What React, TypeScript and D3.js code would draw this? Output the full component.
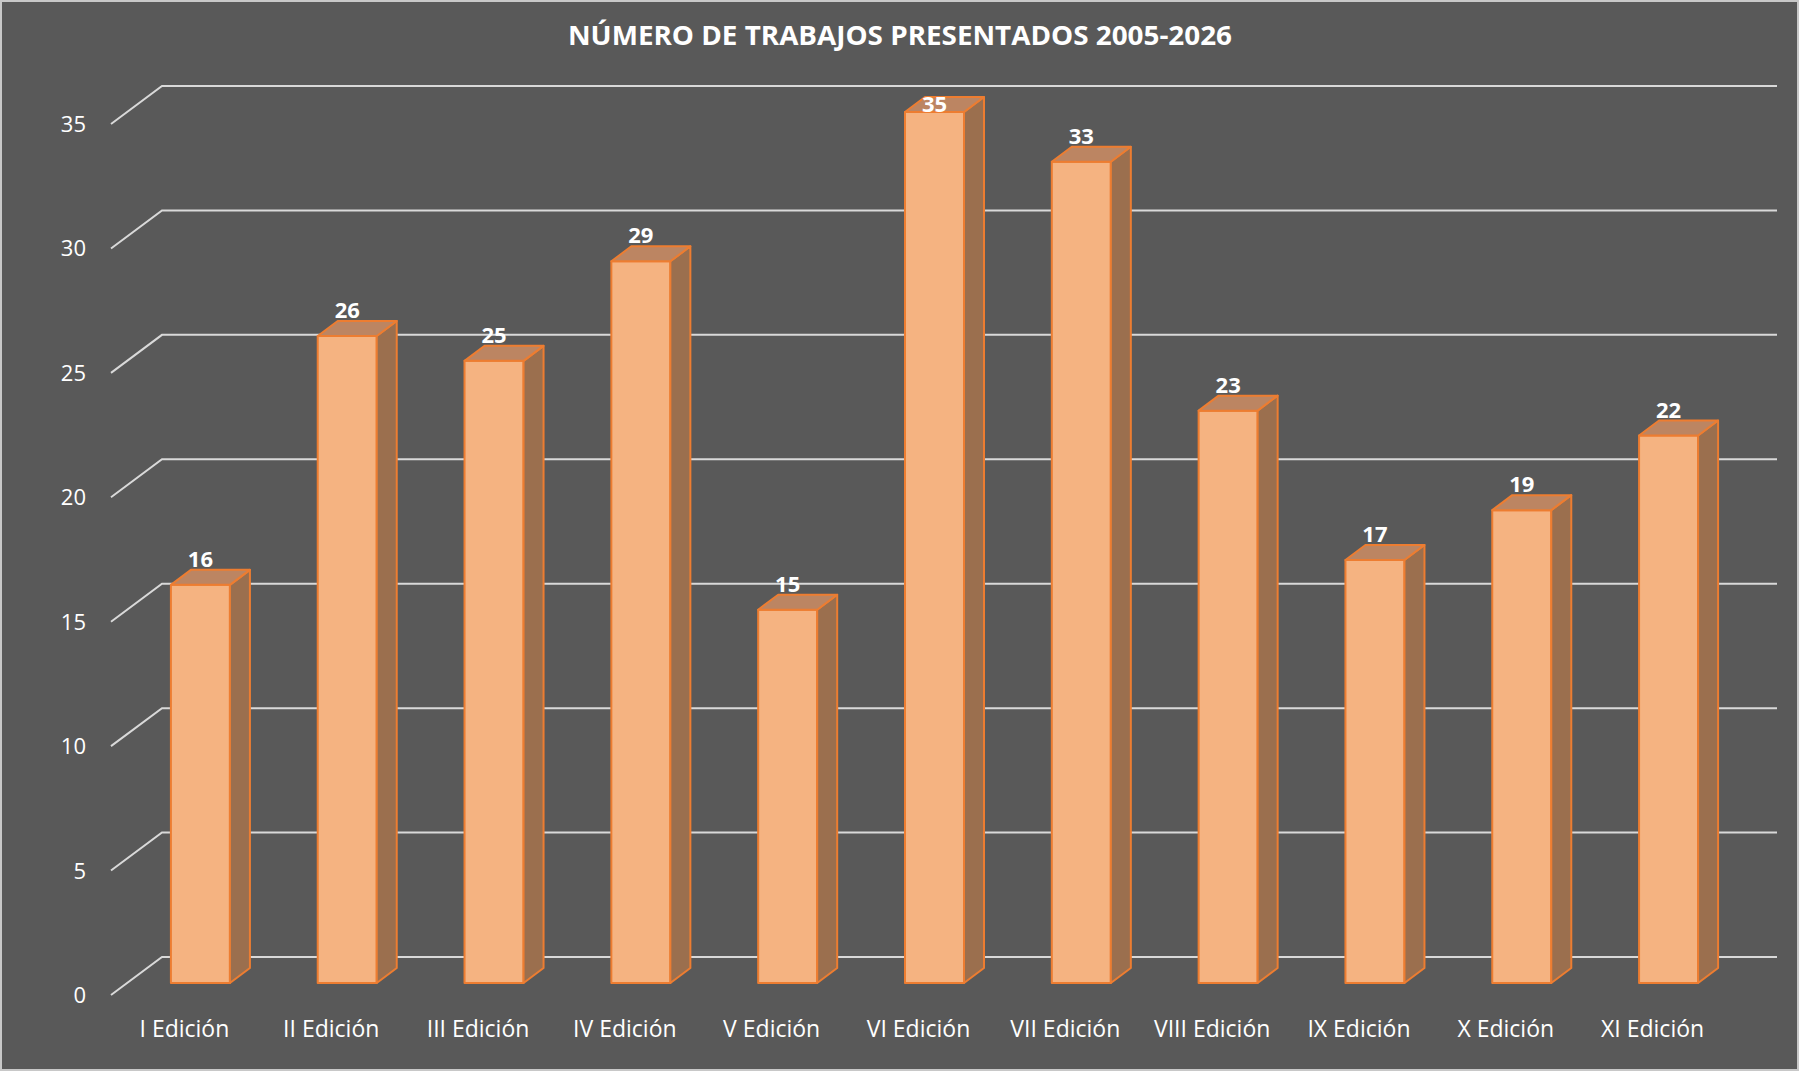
import * as d3 from "d3";
import React, { useEffect, useRef } from "react";

// chart data
const categories = [
  "I Edición", "II Edición", "III Edición", "IV Edición", "V Edición", "VI Edición",
  "VII Edición", "VIII Edición", "IX Edición", "X Edición", "XI Edición",
];
const values = [16, 26, 25, 29, 15, 35, 33, 23, 17, 19, 22];
const yTicks = [0, 5, 10, 15, 20, 25, 30, 35];
const title = "NÚMERO DE TRABAJOS PRESENTADOS 2005-2026";

const App: React.FC = () => {
  const svgRef = useRef<SVGSVGElement | null>(null);

  useEffect(() => {
    const width = 1800;
    const height = 1072;
    const font = "'Open Sans', 'Noto Sans', sans-serif";

    // back wall plane
    const backLeft = 162;
    const backRight = 1777;
    // floor depth (back -> front)
    const floorDx = -51;
    const floorDy = 38;
    // bar front face offset from back wall, and bar depth
    const barDx = -35;
    const barDy = 26;
    const depthDx = 20;
    const depthDy = -15;

    const svg = d3.select(svgRef.current);
    svg.selectAll("*").remove();
    svg.attr("width", width).attr("height", height);

    // background + frame
    svg.append("rect")
      .attr("x", 1).attr("y", 1)
      .attr("width", width - 3).attr("height", height - 3)
      .attr("fill", "#595959")
      .attr("stroke", "#C8C8C8")
      .attr("stroke-width", 2);

    const x = d3.scaleBand<string>()
      .domain(categories)
      .range([backLeft, backRight])
      .paddingInner(0.598)
      .paddingOuter(0.299);
    const y = d3.scaleLinear().domain([0, 35]).range([957, 86]);

    // gridlines with the slanted floor part
    const grid = svg.append("g");
    yTicks.forEach((t) => {
      const yb = y(t);
      grid.append("path")
        .attr("d", d3.line()([
          [backLeft + floorDx, yb + floorDy],
          [backLeft, yb],
          [backRight, yb],
        ]))
        .attr("fill", "none")
        .attr("stroke", "#D9D9D9")
        .attr("stroke-width", 2);
      grid.append("text")
        .attr("x", 86)
        .attr("y", yb + floorDy + 8)
        .attr("text-anchor", "end")
        .attr("font-family", font)
        .attr("font-size", 22)
        .attr("fill", "#FFFFFF")
        .text(t);
    });

    // bars
    const bw = x.bandwidth();
    const bars = svg.append("g");
    categories.forEach((c, i) => {
      const v = values[i];
      const x0 = x(c)! + barDx;
      const x1 = x0 + bw;
      const yt = y(v) + barDy;
      const yb = y(0) + barDy;
      const g = bars.append("g")
        .attr("stroke", "#ED7D31")
        .attr("stroke-width", 2)
        .attr("stroke-linejoin", "round");
      g.append("rect")
        .attr("x", x0).attr("y", yt)
        .attr("width", bw).attr("height", yb - yt)
        .attr("fill", "#F5B381");
      g.append("path")
        .attr("d", d3.line()([
          [x1, yt], [x1 + depthDx, yt + depthDy], [x1 + depthDx, yb + depthDy], [x1, yb],
        ]) + "Z")
        .attr("fill", "#9B6F4E");
      g.append("path")
        .attr("d", d3.line()([
          [x0, yt], [x0 + depthDx, yt + depthDy], [x1 + depthDx, yt + depthDy], [x1, yt],
        ]) + "Z")
        .attr("fill", "#BC8562");
    });

    // data labels
    const labelTop = y(35) + barDy;
    svg.append("g").selectAll("text")
      .data(categories)
      .enter()
      .append("text")
      .attr("x", (c) => x(c)! + barDx + bw / 2)
      .attr("y", (c, i) => Math.max(y(values[i]) + barDy - 18, labelTop))
      .attr("text-anchor", "middle")
      .attr("font-family", font)
      .attr("font-weight", "bold")
      .attr("font-size", 22)
      .attr("fill", "#FFFFFF")
      .text((c, i) => values[i]);

    // category labels on the front floor edge
    svg.append("g").selectAll("text")
      .data(categories)
      .enter()
      .append("text")
      .attr("x", (c) => x(c)! + bw / 2 + floorDx)
      .attr("y", 1037)
      .attr("text-anchor", "middle")
      .attr("font-family", font)
      .attr("font-size", 23)
      .attr("fill", "#FFFFFF")
      .text((c) => c);

    // title
    svg.append("text")
      .attr("x", width / 2)
      .attr("y", 45)
      .attr("text-anchor", "middle")
      .attr("font-family", font)
      .attr("font-weight", "bold")
      .attr("font-size", 26)
      .attr("fill", "#FFFFFF")
      .attr("textLength", 664)
      .attr("lengthAdjust", "spacingAndGlyphs")
      .text(title);
  }, []);

  return (
    <svg ref={svgRef} style={{ position: "absolute", left: 0, top: 0, display: "block" }}></svg>
  );
};

export default App;
